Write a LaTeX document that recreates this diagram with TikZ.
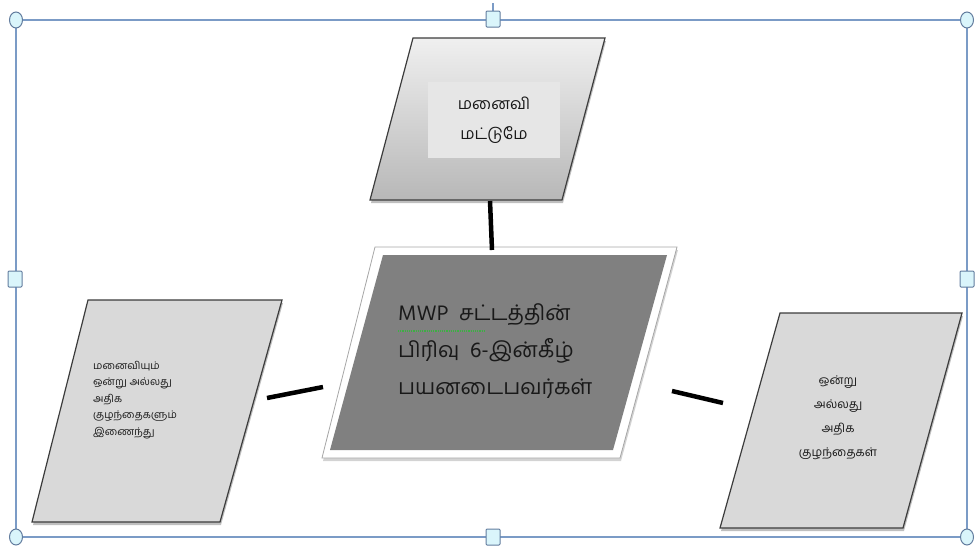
\documentclass[tikz,border=0pt]{standalone}
\usepackage{fontspec}
\newfontfamily\tamilfont[Script=Tamil]{Hind Madurai}
\usetikzlibrary{shadows,calc,shapes.geometric}
\definecolor{frameblue}{HTML}{7B9BC6}
\definecolor{handlecyan}{HTML}{DAF5FB}
\definecolor{boxgray}{HTML}{D9D9D9}
\definecolor{coregray}{HTML}{808080}
\definecolor{edgegray}{HTML}{3C3C3C}
\definecolor{labelgray}{HTML}{E6E6E6}
\definecolor{spellgreen}{HTML}{3CB043}

\begin{document}
\begin{tikzpicture}[x=1pt,y=-1pt,
			frame/.style={draw=frameblue,line width=1.5pt},
			handlesq/.style={draw=frameblue!80!black,fill=handlecyan,line width=1pt,rounded corners=1pt,minimum width=14pt,minimum height=16pt,inner sep=0pt},
			handlecirc/.style={draw=frameblue!80!black,fill=handlecyan,line width=1pt,ellipse,minimum width=13pt,minimum height=16pt,inner sep=0pt},
			para/.style={draw=edgegray,line width=1.2pt,fill=boxgray,drop shadow={shadow xshift=1pt,shadow yshift=-3pt,opacity=0.5}},
			txt/.style={inner sep=0pt,text=black!90},
			link/.style={line width=4.5pt,black}
			]
			\useasboundingbox (0,0) rectangle (979,549);
			% selection frame
			\draw[frame] (16,20) rectangle (967,537);
			\coordinate (rotTop) at (493,3);
			\coordinate (rotBot) at (493,12);
			\draw[frame] (rotTop) -- (rotBot);
			\foreach \nm/\px/\py in {N/493/19,S/493/537,W/15/279,E/967/279}
				\node[handlesq] (h\nm) at (\px,\py) {};
			\foreach \nm/\px/\py in {NW/16/20,NE/967/20,SW/16/537,SE/967/537}
				\node[handlecirc] (c\nm) at (\px,\py) {};
			% shapes
			\draw[para,top color=black!6,bottom color=black!28] (413,38) -- (605,38) -- (562,200) -- (370,200) -- cycle;
			\draw[draw=black!35,line width=0.8pt,fill=white,drop shadow={shadow xshift=1pt,shadow yshift=-3pt,opacity=0.35}] (375,247) -- (677,247) -- (620,458) -- (322,458) -- cycle;
			\fill[coregray] (383,255) -- (667,255) -- (613,450) -- (330,450) -- cycle;
			\draw[para] (88,300) -- (282,300) -- (220,522) -- (32,522) -- cycle;
			\draw[para] (780,313) -- (962,313) -- (903,528) -- (720,528) -- cycle;
			% labels
			\node[txt,fill=labelgray,minimum width=132pt,minimum height=76pt,align=center,font=\tamilfont\fontsize{16}{30}\selectfont] (wife) at (494,120) {மனைவி\\மட்டுமே};
			\node[txt,anchor=west,align=left,font=\tamilfont\fontsize{21.5}{37}\selectfont] (mwp) at (398,351) {MWP\ \ சட்டத்தின்\\பிரிவு\ \ 6-இன்கீழ்\\பயனடைபவர்கள்};
			\node[txt,anchor=west,align=left,font=\tamilfont\fontsize{10.5}{16.5}\selectfont] (wifekids) at (93,400) {மனைவியும்\\ஒன்று அல்லது\\அதிக\\குழந்தைகளும்\\இணைந்து};
			\node[txt,align=center,font=\tamilfont\fontsize{12}{24}\selectfont] (kids) at (838,418) {ஒன்று\\அல்லது\\அதிக\\குழந்தைகள்};
			% spell-check mark
			\coordinate (spellA) at (398,331);
			\coordinate (spellB) at (484,331);
			\draw[spellgreen,densely dotted,line width=1.2pt] (spellA) -- (spellB);
			% connectors
			\coordinate (wifeEnd) at (490,201);
			\coordinate (mwpTop) at (492,250);
			\coordinate (wkEnd) at (267,398);
			\coordinate (mwpLeft) at (323,387);
			\coordinate (mwpRight) at (672,391);
			\coordinate (kidsEnd) at (723,403);
			\draw[link] (wifeEnd) -- (mwpTop);
			\draw[link] (wkEnd) -- (mwpLeft);
			\draw[link] (mwpRight) -- (kidsEnd);
		\end{tikzpicture}
\end{document}
